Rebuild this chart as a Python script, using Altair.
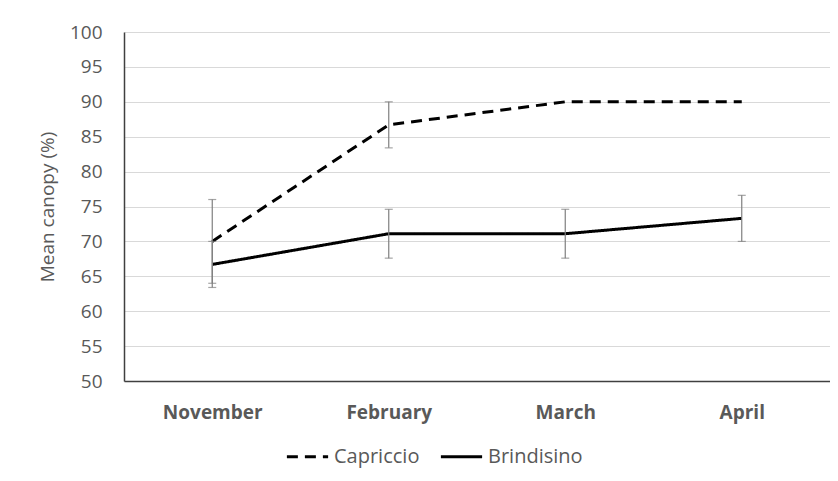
import altair as alt
import pandas as pd

months = ["November", "February", "March", "April"]
series_names = ["Capriccio", "Brindisino"]
capriccio = [70.0, 86.7, 90.0, 90.0]
capriccio_err = [6.0, 3.3, 0.0, 0.0]
brindisino = [66.7, 71.1, 71.1, 73.3]
brindisino_err = [3.3, 3.5, 3.5, 3.3]
y_ticks = [50, 55, 60, 65, 70, 75, 80, 85, 90, 95, 100]

rows = []
for m, v, e in zip(months, capriccio, capriccio_err):
    rows.append({"month": m, "series": "Capriccio", "value": v, "lo": v - e, "hi": v + e, "err": e})
for m, v, e in zip(months, brindisino, brindisino_err):
    rows.append({"month": m, "series": "Brindisino", "value": v, "lo": v - e, "hi": v + e, "err": e})
df = pd.DataFrame(rows)

FONT = "Open Sans"
GRAY = "#595959"

x_scale = alt.Scale(type="point", domain=months, padding=0.5)
x_axis = alt.Axis(title=None, labelAngle=0, labelFontWeight="bold", labelFontSize=19,
                  labelColor=GRAY, labelFont=FONT, ticks=False, labelPadding=22,
                  domainColor="#404040", domainWidth=1.5, grid=False)
y_scale = alt.Scale(domain=[50, 100], nice=False, zero=False)
y_axis = alt.Axis(title="Mean canopy (%)", values=y_ticks, ticks=False, labelOverlap=False,
                  labelFontSize=19, labelColor=GRAY, labelFont=FONT, labelPadding=22,
                  titleFontSize=19, titleFont=FONT, titleColor=GRAY, titleFontWeight="normal",
                  titlePadding=12, gridColor="#d9d9d9", gridWidth=1,
                  domainColor="#404040", domainWidth=1.5)

def X():
    return alt.X("month:N", sort=months, scale=x_scale, axis=x_axis)

base = alt.Chart(df)

lines = base.mark_line(color="black", strokeWidth=3).encode(
    x=X(),
    y=alt.Y("value:Q", scale=y_scale, axis=y_axis),
    strokeDash=alt.StrokeDash("series:N", sort=series_names,
                              scale=alt.Scale(domain=series_names, range=[[11, 7], [1, 0]]),
                              legend=alt.Legend(title=None, orient="none", direction="horizontal",
                                                legendX=161, legendY=402, symbolType="stroke",
                                                symbolSize=1700, symbolStrokeWidth=3,
                                                symbolStrokeColor="black", labelFontSize=20,
                                                labelFont=FONT, labelColor=GRAY, labelOffset=4,
                                                columnPadding=14)),
    detail="series:N",
)

err_df = base.transform_filter("datum.err > 0")
rules = err_df.mark_rule(color="#7f7f7f", strokeWidth=1.2).encode(
    x=X(), y=alt.Y("lo:Q", scale=y_scale, axis=y_axis), y2="hi:Q")
cap_lo = err_df.mark_tick(color="#7f7f7f", thickness=1.2, size=8, orient="horizontal").encode(
    x=X(), y=alt.Y("lo:Q", scale=y_scale, axis=y_axis))
cap_hi = err_df.mark_tick(color="#7f7f7f", thickness=1.2, size=8, orient="horizontal").encode(
    x=X(), y=alt.Y("hi:Q", scale=y_scale, axis=y_axis))

chart = alt.layer(lines, rules, cap_lo, cap_hi).properties(
    width=706, height=349,
    autosize=alt.AutoSizeParams(type="none"),
    padding={"left": 116, "top": 24, "right": 0, "bottom": 90},
    background="white",
).configure_view(stroke=None)

chart.save("out.html", embed_options={"renderer": "svg", "actions": False})
